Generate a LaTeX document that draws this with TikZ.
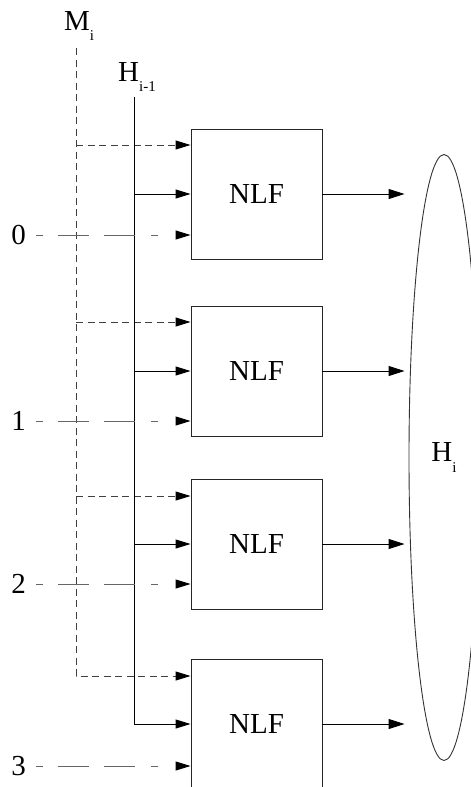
\documentclass[tikz,border=0pt]{standalone}
\usepackage{fontspec}
\setmainfont{Liberation Serif}
\usetikzlibrary{arrows.meta,shapes.geometric}
\newcommand{\bigf}{\fontsize{29}{30}\selectfont}
\newcommand{\subf}{\fontsize{15}{15}\selectfont}
\begin{document}
\begin{tikzpicture}[x=1pt,y=-1pt,
  nlfbox/.style={draw=black!85, line width=0.9pt, minimum width=131pt, minimum height=130pt, inner sep=0pt, font=\bigf},
  lbl/.style={inner sep=0pt, font=\bigf},
  tipa/.style={-{Triangle[length=15pt,width=9pt,color=black]}},
  mline/.style={draw=black!75, line width=0.9pt, dash pattern=on 7pt off 4.5pt},
  hline/.style={draw=black, line width=0.9pt},
  inline/.style={draw=black!60, line width=0.9pt, dash pattern=on 0pt off 10pt on 7pt off 15pt on 31pt off 15pt on 31pt off 16pt on 7pt off 60pt},
  outline/.style={draw=black, line width=0.9pt, -{Triangle[length=16pt,width=10pt,color=black]}, shorten >=4pt}
]
\useasboundingbox (0,0) rectangle (471,787);
\clip (0,0) rectangle (471,787);

% labels
\node[lbl, anchor=base west] (mlab) at (64,30) {M\raisebox{-10pt}{\subf i}};
\node[lbl, anchor=base west] (hlab) at (118,81) {H\raisebox{-10pt}{\subf i-1}};

% boxes
\node[nlfbox] (b1) at (256.5,194) {NLF};
\node[nlfbox] (b2) at (256.5,371) {NLF};
\node[nlfbox] (b3) at (256.5,544) {NLF};
\node[nlfbox] (b4) at (256.5,724) {NLF};

% output ellipse
\node[ellipse, draw=black!80, line width=0.9pt, minimum width=70pt, minimum height=606pt, inner sep=0pt, font=\bigf] (hi) at (444,457.5) {H\raisebox{-10pt}{\subf i}};

% digit labels
\node[lbl] (d0) at (18.5,235) {0};
\node[lbl] (d1) at (18.5,421) {1};
\node[lbl] (d2) at (18.5,584) {2};
\node[lbl] (d3) at (18.5,766) {3};

% coordinates on the M and H lines
\coordinate (mtop) at (76,48);
\coordinate (m1) at (76,145);
\coordinate (m2) at (76,322);
\coordinate (m3) at (76,496);
\coordinate (m4) at (76,676);
\coordinate (htop) at (134,97);
\coordinate (h1) at (134,194);
\coordinate (h2) at (134,371);
\coordinate (h3) at (134,544);

% M dashed bus
\draw[mline, tipa] (mtop) -- (m4) -- (m4 -| b4.west);
\draw[mline, tipa] (m1) -- (m1 -| b1.west);
\draw[mline, tipa] (m2) -- (m2 -| b2.west);
\draw[mline, tipa] (m3) -- (m3 -| b3.west);

% H solid bus
\draw[hline, tipa] (htop) |- (b4.west);
\draw[hline, tipa] (h1) -- (b1.west);
\draw[hline, tipa] (h2) -- (b2.west);
\draw[hline, tipa] (h3) -- (b3.west);

% digit inputs
\draw[inline, tipa] (d0.east) -- (d0.east -| b1.west);
\draw[inline, tipa] (d1.east) -- (d1.east -| b2.west);
\draw[inline, tipa] (d2.east) -- (d2.east -| b3.west);
\draw[inline, tipa] (d3.east) -- (d3.east -| b4.west);

% outputs
\draw[outline] (b1.east) -- (b1.east -| hi.west);
\draw[outline] (b2.east) -- (b2.east -| hi.west);
\draw[outline] (b3.east) -- (b3.east -| hi.west);
\draw[outline] (b4.east) -- (b4.east -| hi.west);
\end{tikzpicture}
\end{document}
